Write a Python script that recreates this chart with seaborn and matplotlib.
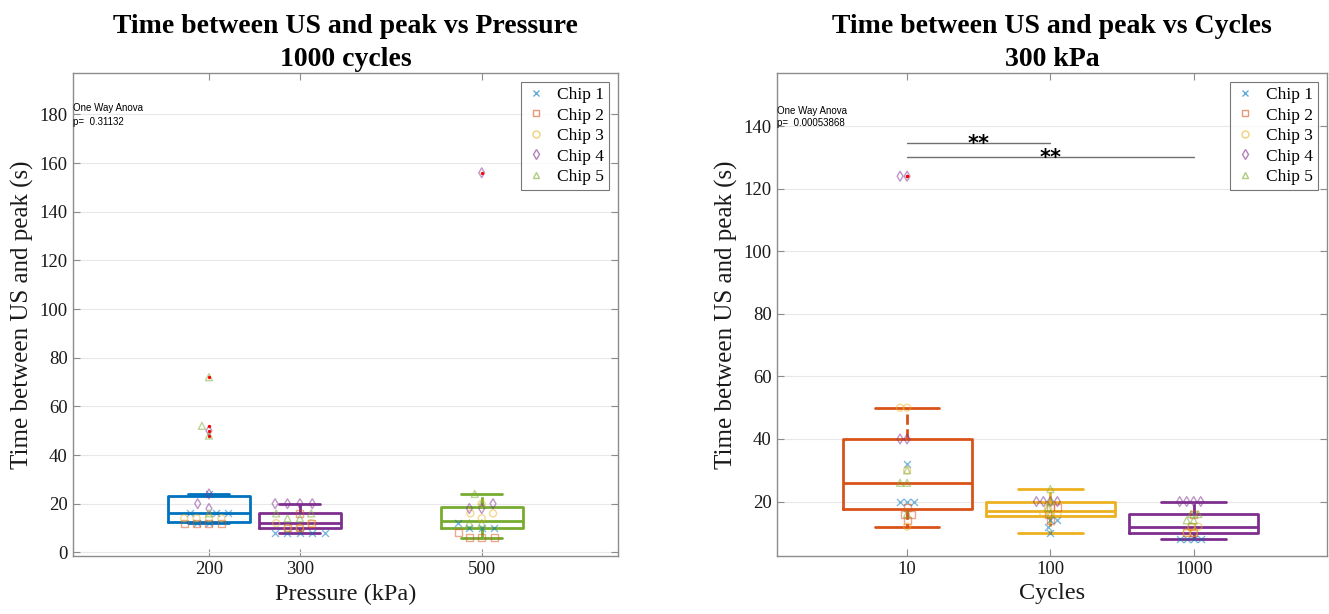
import matplotlib
matplotlib.use("Agg")
import matplotlib.pyplot as plt
from matplotlib.lines import Line2D
import pandas as pd
import seaborn as sns

# ---- chips (series) ----
chips = ["Chip 1", "Chip 2", "Chip 3", "Chip 4", "Chip 5"]
chip_colors = ["#0072BD", "#D95319", "#EDB120", "#7E2F8E", "#77AC30"]
chip_markers = ["x", "s", "o", "d", "^"]

# ---- left panel: time between US and peak (s) at 1000 cycles ----
pressures = ["200", "300", "500"]
pressure_box_colors = ["#0072BD", "#7E2F8E", "#77AC30"]
p200 = {"Chip 1": [16, 16, 16, 12, 12, 24], "Chip 2": [12, 12, 12, 12],
        "Chip 3": [14, 14, 14, 14], "Chip 4": [24, 18, 20, 50],
        "Chip 5": [72, 52, 48, 16]}
p300 = {"Chip 1": [8, 8, 8, 8, 8], "Chip 2": [16, 12, 10, 10],
        "Chip 3": [12, 10, 10, 12], "Chip 4": [20, 20, 20, 20],
        "Chip 5": [14, 16, 14, 16]}
p500 = {"Chip 1": [10, 10, 10, 12], "Chip 2": [6, 8, 6, 6],
        "Chip 3": [20, 16, 16, 14], "Chip 4": [18, 18, 20, 156],
        "Chip 5": [24, 20, 12, 12]}
anova_p_pressure = "0.31132"

# ---- right panel: time between US and peak (s) at 300 kPa ----
cycles = ["10", "100", "1000"]
cycle_box_colors = ["#D95319", "#EDB120", "#7E2F8E"]
c10 = {"Chip 1": [32, 20, 20, 20], "Chip 2": [18, 16, 16, 14],
       "Chip 3": [50, 50, 30, 12], "Chip 4": [40, 40, 124, 124],
       "Chip 5": [30, 26, 26, 16]}
c100 = {"Chip 1": [14, 14, 12, 10], "Chip 2": [18, 18, 16, 14],
        "Chip 3": [16, 16, 18, 16], "Chip 4": [20, 20, 20, 20],
        "Chip 5": [24, 18, 20, 16]}
c1000 = {"Chip 1": [8, 8, 8, 8], "Chip 2": [16, 12, 10, 10],
         "Chip 3": [12, 12, 10, 10], "Chip 4": [20, 20, 20, 20],
         "Chip 5": [16, 16, 14, 14]}
anova_p_cycles = "0.00053868"
# significant pairwise comparisons: (group a, group b, bracket height)
sig_pairs = [("10", "100", 134.6), ("10", "1000", 130.2)]


def to_frame(groups, labels, key):
    rows = []
    for lab, grp in zip(labels, groups):
        for chip in chips:
            for v in grp[chip]:
                rows.append({key: lab, "chip": chip, "time": v})
    return pd.DataFrame(rows)


df_p = to_frame([p200, p300, p500], pressures, "pressure")
df_p["kpa"] = df_p["pressure"].astype(float)
df_c = to_frame([c10, c100, c1000], cycles, "cycles")

sns.set_theme(style="white")
plt.rcParams["font.family"] = ["Liberation Serif", "DejaVu Serif"]
plt.rcParams["text.color"] = "black"

fig = plt.figure(figsize=(13.29, 6.14), dpi=100)
axL = fig.add_axes([0.0546, 0.0945, 0.4105, 0.7866])
axR = fig.add_axes([0.5844, 0.0945, 0.4141, 0.7866])

box_kws = dict(width=0.9, fill=False, linewidth=2, whis=1.5,
               whiskerprops=dict(linestyle="--"), legend=False)
MARKER_SIZE = 5
swarm_colls = []


def red_fliers(ax):
    for ln in ax.lines:
        if ln.get_linestyle() == "None":
            ln.set_marker("o")
            ln.set_markersize(2.4)
            ln.set_markeredgewidth(0)
            ln.set_markerfacecolor("red")
            ln.set_zorder(5)


def chip_swarms(ax, df, x, spacing, **kws):
    # the swarm is laid out with a "spacing" marker size, then drawn smaller
    for chip, col, mk in zip(chips, chip_colors, chip_markers):
        sub = df[df["chip"] == chip]
        n0 = len(ax.collections)
        sns.swarmplot(data=sub, x=x, y="time", color=col, marker=mk,
                      size=spacing, linewidth=1, edgecolor=col, alpha=0.5,
                      ax=ax, warn_thresh=1, **kws)
        for coll in ax.collections[n0:]:
            if mk != "x":
                coll.set_facecolor("none")
            coll.set_edgecolor(col)
            coll.set_alpha(0.5)
            coll.set_zorder(3)
            swarm_colls.append(coll)


# left panel
sns.boxplot(data=df_p, x="kpa", y="time", hue="pressure",
            palette=dict(zip(pressures, pressure_box_colors)),
            native_scale=True, ax=axL, **box_kws)
red_fliers(axL)
chip_swarms(axL, df_p, "kpa", 7.5, native_scale=True)
axL.set_xlim(50, 650)
axL.set_ylim(-1.5, 197)
axL.set_xticks([float(p) for p in pressures])
axL.set_xticklabels(pressures)
axL.set_yticks(range(0, 181, 20))
axL.set_xlabel("Pressure (kPa)", fontsize=17.5)
axL.set_ylabel("Time between US and peak (s)", fontsize=18)
axL.set_title("Time between US and peak vs Pressure\n1000 cycles",
              fontsize=20, fontweight="bold", pad=5, linespacing=1.45)
axL.text(0.0, 182.5, "One Way Anova", fontsize=7, family="Liberation Sans",
         ha="left", va="center", transform=axL.get_yaxis_transform())
axL.text(0.0, 177.0, "p=  " + anova_p_pressure, fontsize=7,
         family="Liberation Sans", ha="left", va="center",
         transform=axL.get_yaxis_transform())

# right panel
sns.boxplot(data=df_c, x="cycles", y="time", hue="cycles", order=cycles,
            hue_order=cycles, palette=dict(zip(cycles, cycle_box_colors)),
            ax=axR, **box_kws)
red_fliers(axR)
chip_swarms(axR, df_c, "cycles", 3.8, order=cycles)
axR.set_xlim(-0.91, 2.93)
axR.set_ylim(2.6, 157)
axR.set_yticks(range(20, 141, 20))
axR.set_xlabel("Cycles", fontsize=17.5)
axR.set_ylabel("Time between US and peak (s)", fontsize=18)
axR.set_title("Time between US and peak vs Cycles\n300 kPa",
              fontsize=20, fontweight="bold", pad=5, linespacing=1.45)
axR.text(0.0, 145.0, "One Way Anova", fontsize=7, family="Liberation Sans",
         ha="left", va="center", transform=axR.get_yaxis_transform())
axR.text(0.0, 141.1, "p=  " + anova_p_cycles, fontsize=7,
         family="Liberation Sans", ha="left", va="center",
         transform=axR.get_yaxis_transform())
for a, b, h in sig_pairs:
    xa, xb = cycles.index(a), cycles.index(b)
    axR.plot([xa, xb], [h, h], color="#707070", lw=1, zorder=2)
    axR.text((xa + xb) / 2, h - 2.2, "**", fontsize=15, fontweight="bold",
             family="DejaVu Sans", ha="center", va="baseline", color="black")

handles = [Line2D([], [], linestyle="none", marker=mk, color=col,
                  markerfacecolor="none" if mk != "x" else col,
                  markersize=5, alpha=0.6, label=ch)
           for ch, col, mk in zip(chips, chip_colors, chip_markers)]

for ax in (axL, axR):
    ax.yaxis.grid(True, color="#e8e8e8", lw=0.8)
    ax.xaxis.grid(False)
    ax.set_axisbelow(True)
    for sp in ax.spines.values():
        sp.set_visible(True)
        sp.set_color("#8c8c8c")
        sp.set_linewidth(1)
    ax.tick_params(direction="in", length=5, width=0.8, color="#8c8c8c",
                   labelsize=13.5, labelcolor="#1a1a1a",
                   left=True, right=True, bottom=True, top=True,
                   labelright=False, labeltop=False)
    ax.xaxis.label.set_color("#1a1a1a")
    ax.yaxis.label.set_color("#1a1a1a")
    leg = ax.legend(handles=handles, loc="upper right", fontsize=12.5,
                    frameon=True, fancybox=False, borderaxespad=0.5,
                    handlelength=1.2, handletextpad=0.6, borderpad=0.3,
                    labelspacing=0.25)
    leg.get_frame().set_edgecolor("#555555")
    leg.get_frame().set_linewidth(0.8)
    for t in leg.get_texts():
        t.set_color("black")

# lay out the swarms, then freeze their positions and shrink the markers
fig.canvas.draw()
for coll in swarm_colls:
    if "draw" in coll.__dict__:
        del coll.draw
    coll.set_sizes([MARKER_SIZE ** 2])

fig.savefig("out.png", dpi=100)
